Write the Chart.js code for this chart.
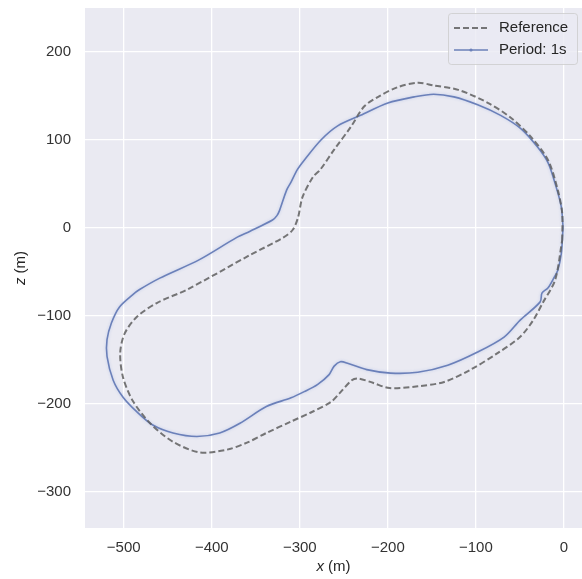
<!DOCTYPE html>
<html><head><meta charset="utf-8">
<script src="https://cdn.jsdelivr.net/npm/chart.js@4.4.0/dist/chart.umd.min.js"></script>
<style>html,body{margin:0;padding:0;background:#fff;}#wrap{width:582px;height:579px;}</style>
</head><body><div id="wrap"><canvas id="c" width="582" height="579"></canvas></div>
<script>
// Reference trajectory (dashed)
const refX = [-2,-2,-7,-18,-37,-60,-86,-120,-148,-166,-189,-211,-227,-242,-261,-277,-285,-297,-302,-308,-319,-357,-428,-462,-485,-499,-504,-501,-490,-470,-444,-414,-383,-360,-338,-310,-288,-265,-255,-241,-234,-217,-198,-166,-136,-106,-75,-50,-35,-24,-10,-2];
const refZ = [-14,17,43,77,103,125,142,157,162,165,160,149,138,115,89,66,58,35,12,-2,-11,-31,-70,-85,-101,-120,-142,-169,-196,-222,-243,-255,-252,-244,-233,-220,-210,-198,-188,-173,-171,-176,-182,-180,-175,-161,-142,-124,-105,-85,-59,-14];
// Estimated trajectory, period 1 s (solid)
const estX = [-1,-3,-9,-18,-30,-49,-72,-98,-125,-148,-170,-200,-231,-257,-276,-295,-303,-310,-315,-323,-326,-331,-357,-372,-414,-459,-482,-490,-505,-514,-519,-519,-512,-501,-485,-467,-444,-417,-391,-368,-338,-310,-295,-280,-267,-261,-254,-245,-224,-197,-166,-132,-98,-68,-50,-27,-25,-18,-11,-7,-3,-1];
const estZ = [1,24,47,74,92,113,128,140,149,152,149,142,128,116,100,77,66,52,43,20,14,9,-4,-11,-36,-57,-70,-76,-90,-108,-127,-146,-173,-192,-209,-224,-233,-237,-233,-222,-203,-193,-186,-178,-167,-157,-152,-154,-161,-165,-164,-156,-141,-124,-105,-84,-74,-68,-56,-48,-29,1];
const xTicks = [-500,-400,-300,-200,-100,0];
const zTicks = [-300,-200,-100,0,100,200];
const seriesNames = ['Reference','Period: 1s'];

const FONT = '"Liberation Sans", Arial, sans-serif';
const BLUE = '#6B80B9';
const GRAY = 'rgba(95,95,95,0.85)';
const fmt = v => (v < 0 ? '\u2212' + Math.abs(v) : String(v));
const toPts = (xs, ys) => xs.map((x, i) => ({x: x, y: ys[i]}));

const bgPlugin = {
  id: 'bg',
  beforeDraw(chart) {
    const {ctx, chartArea: a} = chart;
    ctx.save();
    ctx.fillStyle = '#EAEAF2';
    ctx.fillRect(a.left, a.top, a.right - a.left, a.bottom - a.top);
    ctx.restore();
  },
  beforeDatasetDraw(chart, args) {
    if (args.index === 1) {
      const ctx = chart.ctx;
      ctx.save();
      ctx.shadowColor = 'rgba(140,165,225,0.45)';
      ctx.shadowBlur = 3;
    }
  },
  afterDatasetDraw(chart, args) {
    if (args.index === 1) chart.ctx.restore();
  },
  afterDraw(chart) {
    const {ctx, chartArea: a} = chart;
    ctx.save();
    ctx.fillStyle = '#262626';
    ctx.textBaseline = 'middle';
    const drawTitle = (sym, cx, cy) => {
      ctx.font = 'italic 15px ' + FONT;
      const w1 = ctx.measureText(sym).width;
      ctx.font = '15px ' + FONT;
      const w2 = ctx.measureText(' (m)').width;
      const x0 = cx - (w1 + w2) / 2;
      ctx.textAlign = 'left';
      ctx.font = 'italic 15px ' + FONT;
      ctx.fillText(sym, x0, cy);
      ctx.font = '15px ' + FONT;
      ctx.fillText(' (m)', x0 + w1, cy);
    };
    drawTitle('x', (a.left + a.right) / 2, 567);
    ctx.save();
    ctx.translate(21, (a.top + a.bottom) / 2);
    ctx.rotate(-Math.PI / 2);
    drawTitle('z', 0, 0);
    ctx.restore();

    // legend
    const lx = 448.5, ly = 13.5, lw = 129, lh = 51;
    ctx.beginPath();
    ctx.roundRect(lx, ly, lw, lh, 3);
    ctx.fillStyle = 'rgba(234,234,242,0.8)';
    ctx.fill();
    ctx.strokeStyle = 'rgba(204,204,204,0.8)';
    ctx.lineWidth = 1;
    ctx.stroke();
    ctx.beginPath();
    ctx.setLineDash([6, 3]);
    ctx.strokeStyle = GRAY;
    ctx.lineWidth = 2;
    ctx.moveTo(454, 28); ctx.lineTo(488, 28);
    ctx.stroke();
    ctx.setLineDash([]);
    ctx.beginPath();
    ctx.strokeStyle = BLUE;
    ctx.lineWidth = 1.6;
    ctx.moveTo(454, 50); ctx.lineTo(488, 50);
    ctx.stroke();
    ctx.beginPath();
    ctx.fillStyle = BLUE;
    ctx.arc(471, 50, 1.6, 0, Math.PI * 2);
    ctx.fill();
    ctx.fillStyle = '#262626';
    ctx.font = '15px ' + FONT;
    ctx.textAlign = 'left';
    ctx.textBaseline = 'middle';
    ctx.fillText(seriesNames[0], 499, 28);
    ctx.fillText(seriesNames[1], 499, 50);
    ctx.restore();
  }
};

new Chart(document.getElementById('c'), {
  type: 'scatter',
  data: {
    datasets: [
      {label: seriesNames[0], data: toPts(refX, refZ), showLine: true, borderColor: GRAY, borderWidth: 2, borderDash: [6, 3], pointRadius: 0, tension: 0.3, fill: false},
      {label: seriesNames[1], data: toPts(estX, estZ), showLine: true, borderColor: BLUE, borderWidth: 1.6, pointRadius: 0, tension: 0.3, fill: false}
    ]
  },
  options: {
    responsive: false,
    devicePixelRatio: 1,
    animation: false,
    layout: {padding: {top: 8, right: 0, left: 0, bottom: 0}},
    plugins: {legend: {display: false}, tooltip: {enabled: false}},
    scales: {
      x: {
        type: 'linear', min: -544, max: 20.5,
        afterBuildTicks: s => { s.ticks = xTicks.map(v => ({value: v})); },
        afterFit: s => { s.height = 51; s.paddingLeft = 0; s.paddingRight = 0; s.paddingTop = 0; s.paddingBottom = 0; },
        grid: {color: '#ffffff', lineWidth: 1.3, drawTicks: false},
        border: {display: false},
        ticks: {font: {family: FONT, size: 15}, color: '#333', padding: 11, maxRotation: 0, callback: v => fmt(v)}
      },
      y: {
        type: 'linear', min: -341, max: 250,
        afterBuildTicks: s => { s.ticks = zTicks.map(v => ({value: v})); },
        afterFit: s => { s.width = 85; s.paddingLeft = 0; s.paddingRight = 0; s.paddingTop = 0; s.paddingBottom = 0; },
        grid: {color: '#ffffff', lineWidth: 1.3, drawTicks: false},
        border: {display: false},
        ticks: {font: {family: FONT, size: 15}, color: '#333', padding: 14, callback: v => fmt(v)}
      }
    }
  },
  plugins: [bgPlugin]
});
</script></body></html>
